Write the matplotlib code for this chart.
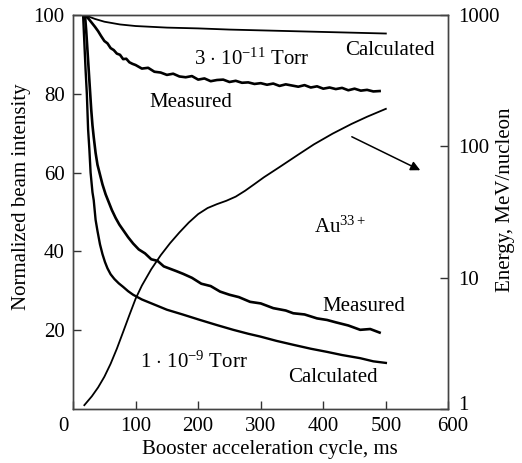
import matplotlib
matplotlib.use("Agg")
import matplotlib.pyplot as plt
import matplotlib.transforms as mtransforms

plt.rcParams["font.family"] = ["Liberation Serif", "DejaVu Serif"]
plt.rcParams["mathtext.fontset"] = "custom"
plt.rcParams["mathtext.rm"] = "Liberation Serif"
plt.rcParams["mathtext.it"] = "Liberation Serif:italic"

# Calculated, 3e-11 Torr
calc_hi_t = [17, 25, 35, 50, 75, 100, 150, 200, 250, 300, 350, 400, 450, 500]
calc_hi_y = [100, 99.6, 99.0, 98.3, 97.6, 97.2, 96.8, 96.6, 96.3, 96.1, 95.9, 95.7, 95.5, 95.3]

# Measured, 3e-11 Torr
meas_hi_t = [19, 25, 30, 35, 40, 45, 50, 55, 60, 65, 70, 75, 80, 85, 90, 95, 100,
             110, 120, 130, 140, 150, 160, 170, 180, 190, 200, 210, 220, 230, 240,
             250, 260, 270, 280, 290, 300, 310, 320, 330, 340, 350, 360, 370, 380,
             390, 400, 410, 420, 430, 440, 450, 460, 470, 480, 490]
meas_hi_y = [100, 99.0, 98.0, 97.0, 95.9, 94.6, 93.4, 92.8, 91.6, 91.1, 90.2, 89.9,
             88.8, 88.9, 88.0, 87.6, 87.3, 86.4, 86.6, 85.6, 85.4, 84.8, 85.1, 84.4,
             84.2, 84.5, 83.6, 83.9, 83.2, 83.5, 83.6, 83.0, 83.3, 82.8, 82.9, 82.5,
             82.7, 82.3, 82.6, 82.0, 82.4, 82.1, 81.8, 82.2, 81.6, 81.9, 81.3, 81.6,
             81.2, 81.5, 80.9, 81.3, 80.8, 81.0, 80.6, 80.7]

# Measured, 1e-9 Torr
meas_lo_t = [19, 21, 23, 25, 27, 29, 31, 33, 36, 39, 43, 47, 52, 57, 62, 68, 74, 81,
             88, 96, 105, 115, 125, 135, 145, 155, 165, 176, 190, 205, 220, 235, 250,
             265, 283, 300, 320, 340, 352, 370, 390, 406, 420, 440, 459, 475, 490]
meas_lo_y = [100, 96, 91, 86, 81, 76, 72, 69, 65, 62, 59.5, 57, 54.5, 52.5, 50.5,
             48.5, 46.8, 45.2, 43.6, 42.0, 40.5, 39.5, 38.0, 37.6, 36.2, 35.6, 35.0,
             34.3, 33.3, 31.8, 31.2, 29.8, 29.0, 28.4, 27.2, 26.8, 25.6, 25.0, 24.3,
             24.0, 23.0, 22.6, 22.0, 21.2, 20.1, 20.3, 19.4]

# Calculated, 1e-9 Torr
calc_lo_t = [16, 18, 20, 22, 24, 26, 28, 31, 33, 36, 39, 43, 47, 51, 55, 60, 66, 73,
             80, 88, 96, 110, 130, 150, 175, 203, 230, 256, 280, 299, 325, 352, 380,
             406, 430, 459, 480, 500]
calc_lo_y = [100, 93, 86, 80, 71, 66, 60, 55, 53, 48, 45.2, 41.8, 39.3, 37.3, 35.7,
             34.2, 33.0, 31.9, 31.0, 29.9, 29.0, 27.8, 26.5, 25.2, 24.0, 22.6, 21.3,
             20.1, 19.1, 18.4, 17.3, 16.3, 15.3, 14.5, 13.7, 12.9, 12.1, 11.7]

# Energy, MeV/nucleon (right axis)
energy_t = [18, 30, 40, 50, 60, 70, 80, 90, 100, 110, 125, 140, 155, 170, 185, 200,
            215, 230, 245, 260, 275, 290, 305, 330, 360, 385, 415, 445, 470, 500]
energy_e = [1.07, 1.25, 1.46, 1.76, 2.21, 2.88, 3.86, 5.19, 6.92, 8.71, 11.6, 14.8,
            18.3, 22.1, 26.3, 30.5, 33.9, 36.3, 38.5, 41.4, 45.9, 51.6, 58.1, 69.5,
            86.5, 103.5, 125, 148, 168, 193]

fs_tick = 15
fs_text = 15
fs_label = 15

fig = plt.figure(figsize=(5.22, 4.63), dpi=100)
ax = fig.add_axes([0.140, 0.1166, 0.719, 0.851])

ax.plot(calc_hi_t, calc_hi_y, color="black", lw=1.3)
ax.plot(meas_hi_t, meas_hi_y, color="black", lw=1.9)
ax.plot(meas_lo_t, meas_lo_y, color="black", lw=1.9)
ax.plot(calc_lo_t, calc_lo_y, color="black", lw=1.7)

ax.set_xlim(0, 600)
ax.set_ylim(0, 100)
ax.set_xticks([0, 100, 200, 300, 400, 500, 600])
ax.set_yticks([20, 40, 60, 80, 100])
ax.tick_params(direction="in", length=6, labelsize=fs_tick, width=1, color="#333", pad=6)
ax.set_xlabel("Booster acceleration cycle, ms", fontsize=fs_label)
ax.set_ylabel("Normalized beam intensity", fontsize=fs_label)
ax.xaxis.set_label_coords(0.525, -0.078)
ax.yaxis.set_label_coords(-0.113, 0.54)

ax2 = ax.twinx()
ax2.plot(energy_t, energy_e, color="black", lw=1.3)
ax2.set_yscale("log")
ax2.set_ylim(1, 1000)
ax2.set_yticks([1, 10, 100, 1000])
ax2.set_yticklabels(["1", "10", "100", "1000"])
ax2.minorticks_off()
ax2.tick_params(direction="in", length=6, labelsize=fs_tick, width=1, color="#333", pad=7)
ax2.set_ylabel("Energy, MeV/nucleon", fontsize=fs_label)
ax2.yaxis.set_label_coords(1.127, 0.53)

for a in (ax, ax2):
    for s in a.spines.values():
        s.set_color("#444")
        s.set_linewidth(1.0)

# small label nudges as in the original
xl = ax.get_xticklabels()
xl[0].set_transform(xl[0].get_transform() + mtransforms.ScaledTranslation(-0.10, 0, fig.dpi_scale_trans))
xl[-1].set_transform(xl[-1].get_transform() + mtransforms.ScaledTranslation(0.04, 0, fig.dpi_scale_trans))
rl = ax2.get_yticklabels()
rl[0].set_transform(rl[0].get_transform() + mtransforms.ScaledTranslation(0, 0.06, fig.dpi_scale_trans))

# annotations
ax.text(286, 88.7, r"3 $\cdot$ 10$^{\mathregular{-11}}$ Torr", fontsize=fs_text,
        ha="center", va="center")
ax.text(507, 91.1, "Calculated", fontsize=fs_text, ha="center", va="center")
ax.text(189, 77.7, "Measured", fontsize=fs_text, ha="center", va="center")
ax.text(427, 46.2, r"Au$^{\mathregular{33+}}$", fontsize=fs_text, ha="center", va="center")
ax.text(465, 26, "Measured", fontsize=fs_text, ha="center", va="center")
ax.text(416, 7.9, "Calculated", fontsize=fs_text, ha="center", va="center")
ax.text(192.5, 12, r"1 $\cdot$ 10$^{\mathregular{-9}}$ Torr", fontsize=fs_text,
        ha="center", va="center")
ax.annotate("", xy=(555, 60.6), xytext=(445.6, 69.1), annotation_clip=False,
            arrowprops=dict(arrowstyle="-|>", color="black", lw=1.1,
                            mutation_scale=14, shrinkA=0, shrinkB=0))

fig.savefig("out.png", dpi=100)
